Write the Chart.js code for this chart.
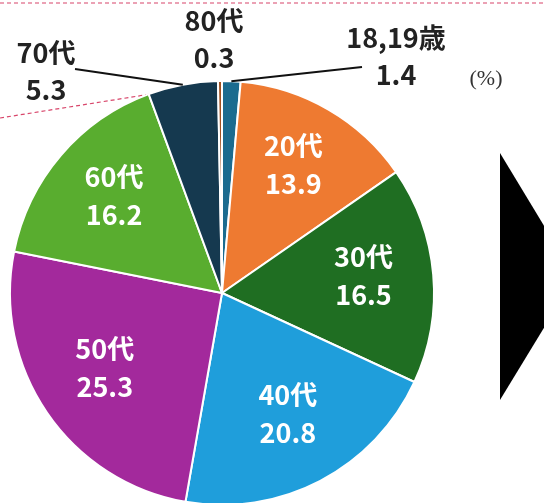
<!DOCTYPE html>
<html>
<head>
<meta charset="utf-8">
<script src="https://cdn.jsdelivr.net/npm/chart.js@4.4.1/dist/chart.umd.min.js"></script>
<style>
  html, body { margin: 0; padding: 0; background: #fff; overflow: hidden; }
  #wrap { position: relative; width: 544px; height: 520px; }
</style>
</head>
<body>
<div id="wrap"><canvas id="pieChart" width="544" height="520"></canvas></div>
<script>
// Age groups, clockwise from the top
const ageLabels = ['18,19歳', '20代', '30代', '40代', '50代', '60代', '70代', '80代'];
const shares = [1.4, 13.9, 16.5, 20.8, 25.3, 16.2, 5.3, 0.3];
const sliceColors = ['#1b6b8f', '#ee7a31', '#1f6e22', '#1f9edb', '#a3299c', '#59ad2f', '#15394f', '#a0501f'];

// Small slices get their label outside with a leader line
const outsideLabels = {
    '18,19歳': { x: 396, y: 38, lineTo: [362, 67] },
    '70代': { x: 46, y: 53, lineTo: [75, 69] },
    '80代': { x: 214, y: 21, lineTo: null }
};

const labelFont = 'bold 27px "Noto Sans CJK JP", "Noto Sans", sans-serif';

// Draws the value labels on top of the slices
const sliceLabels = {
    id: 'sliceLabels',
    afterDatasetsDraw(chart) {
        const ctx = chart.ctx;
        const meta = chart.getDatasetMeta(0);
        ctx.save();
        ctx.font = labelFont;
        ctx.textAlign = 'center';
        ctx.textBaseline = 'middle';
        meta.data.forEach((arc, i) => {
            const p = arc.getProps(['x', 'y', 'startAngle', 'endAngle', 'outerRadius']);
            const mid = (p.startAngle + p.endAngle) / 2;
            const name = ageLabels[i];
            const value = shares[i].toFixed(1);
            const out = outsideLabels[name];
            if (out) {
                // leader line from the slice edge to the text
                if (out.lineTo) {
                    ctx.strokeStyle = '#111';
                    ctx.lineWidth = 2;
                    ctx.beginPath();
                    ctx.moveTo(p.x + Math.cos(mid) * p.outerRadius, p.y + Math.sin(mid) * p.outerRadius);
                    ctx.lineTo(out.lineTo[0], out.lineTo[1]);
                    ctx.stroke();
                }
                ctx.fillStyle = '#222';
                ctx.fillText(name, out.x, out.y);
                ctx.fillText(value, out.x, out.y + 37);
            } else {
                const r = p.outerRadius * 0.67;
                const cx = p.x + Math.cos(mid) * r;
                const cy = p.y + Math.sin(mid) * r - 5;
                ctx.fillStyle = '#fff';
                ctx.fillText(name, cx, cy - 19);
                ctx.fillText(value, cx, cy + 19);
            }
        });
        ctx.restore();
    }
};

// Decorations around the pie: dashed red lines, unit label and the arrow
const decorations = {
    id: 'decorations',
    beforeDatasetsDraw(chart) {
        const ctx = chart.ctx;
        ctx.save();
        ctx.strokeStyle = '#d8456a';
        ctx.lineWidth = 1.2;
        ctx.setLineDash([4, 3]);
        ctx.beginPath();
        ctx.moveTo(0, 3);
        ctx.lineTo(544, 3);
        ctx.moveTo(0, 118);
        ctx.lineTo(214, 84);
        ctx.stroke();
        ctx.restore();
    },
    afterDraw(chart) {
        const ctx = chart.ctx;
        ctx.save();
        ctx.fillStyle = '#333';
        ctx.font = '22px "Liberation Serif", serif';
        ctx.textAlign = 'center';
        ctx.textBaseline = 'middle';
        ctx.fillText('(%)', 486, 79);
        ctx.fillStyle = '#000';
        ctx.beginPath();
        ctx.moveTo(500, 153);
        ctx.lineTo(575, 277);
        ctx.lineTo(500, 400);
        ctx.closePath();
        ctx.fill();
        ctx.restore();
    }
};

const ctx = document.getElementById('pieChart').getContext('2d');
new Chart(ctx, {
    type: 'pie',
    data: {
        labels: ageLabels,
        datasets: [{
            data: shares,
            backgroundColor: sliceColors,
            borderColor: '#fff',
            borderWidth: 2
        }]
    },
    options: {
        responsive: false,
        animation: false,
        rotation: 0,
        layout: {
            padding: { left: 9, top: 80, right: 109, bottom: 14 }
        },
        plugins: {
            legend: { display: false },
            tooltip: { enabled: false }
        }
    },
    plugins: [decorations, sliceLabels]
});
</script>
</body>
</html>
